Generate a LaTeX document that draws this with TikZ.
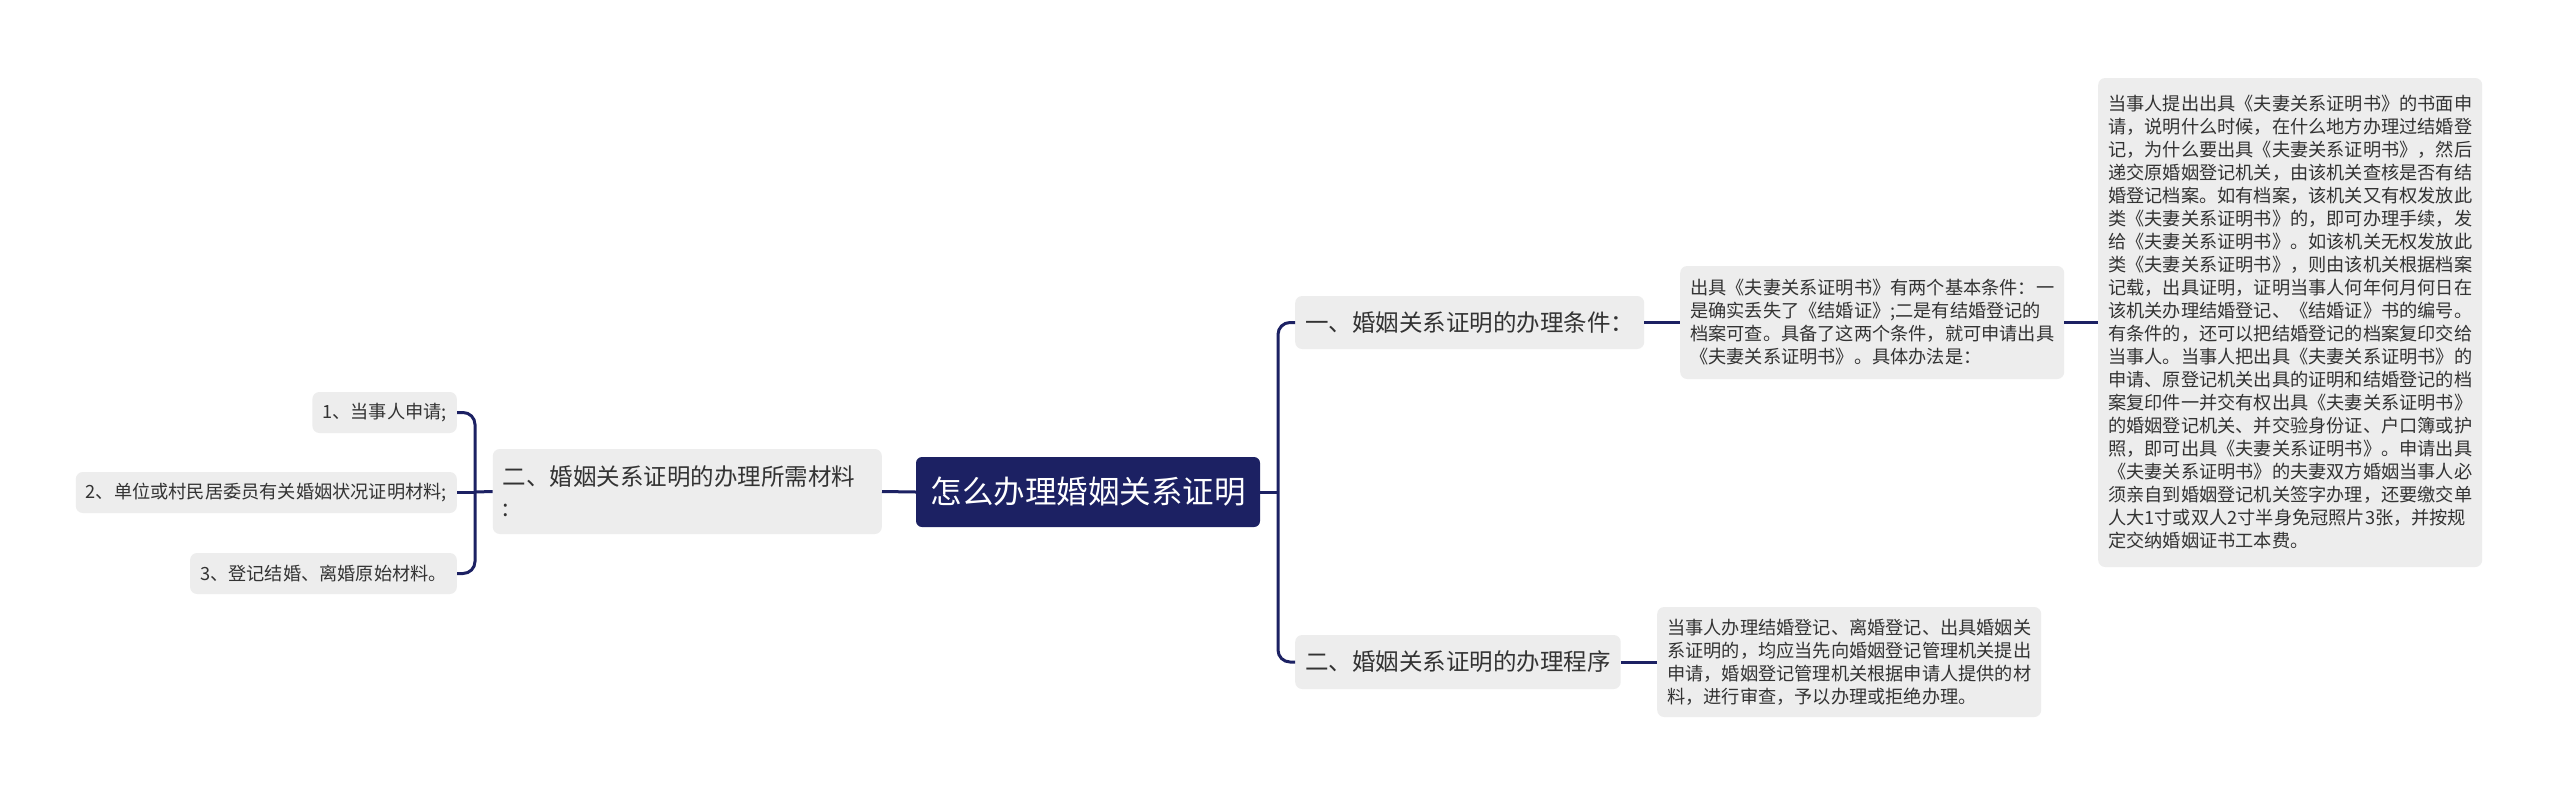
\documentclass[tikz,border=0pt]{standalone}
\usepackage{fontspec}
\newfontfamily\cjk{Noto Sans CJK SC}
\definecolor{navy}{HTML}{1C2163}
\definecolor{boxgray}{HTML}{EDEDED}
\definecolor{txt}{HTML}{333333}
\begin{document}
\begin{tikzpicture}[x=1pt,y=-1pt,
  box/.style={fill=boxgray, rounded corners=7pt, text=txt, inner xsep=10pt, inner ysep=0pt, align=left},
  bigfont/.style={font=\cjk\fontsize{23.5pt}{31pt}\selectfont},
  smallfont/.style={font=\cjk\fontsize{18.2pt}{23pt}\selectfont},
  rootbox/.style={fill=navy, text=white, rounded corners=6pt, inner sep=0pt, minimum width=344pt, minimum height=70pt, font=\cjk\fontsize{31.5pt}{36pt}\selectfont},
  conn/.style={draw=navy, line width=3pt, rounded corners=12pt}]
\fill[white] (0,0) rectangle (2560,796);
\useasboundingbox (0,0) rectangle (2560,796);

\node[rootbox] (root) at (1088,492) {怎么办理婚姻关系证明};

\node[box, bigfont, text width=369pt, minimum height=85pt, anchor=east] (left) at (882,491.5) {二、婚姻关系证明的办理所需材料\\:};
\node[box, smallfont, minimum height=41pt, anchor=east] (k1) at (457,412.5) {1、当事人申请;};
\node[box, smallfont, minimum height=41pt, anchor=east] (k2) at (457,492.5) {2、单位或村民居委员有关婚姻状况证明材料;};
\node[box, smallfont, minimum height=41pt, anchor=east] (k3) at (457,573.5) {3、登记结婚、离婚原始材料。};

\node[box, bigfont, minimum height=53pt, anchor=west] (c1) at (1295,322.5) {一、婚姻关系证明的办理条件：};
\node[box, bigfont, minimum height=54pt, anchor=west] (c2) at (1295,662) {二、婚姻关系证明的办理程序};

\node[box, smallfont, minimum height=113pt, minimum width=384pt, anchor=west] (d1) at (1680,322.5) {出具《夫妻关系证明书》有两个基本条件：一\\是确实丢失了《结婚证》;二是有结婚登记的\\档案可查。具备了这两个条件，就可申请出具\\《夫妻关系证明书》。具体办法是：};

\node[box, smallfont, minimum height=489pt, minimum width=384pt, anchor=west] (d2) at (2098,322.5) {当事人提出出具《夫妻关系证明书》的书面申\\请，说明什么时候，在什么地方办理过结婚登\\记，为什么要出具《夫妻关系证明书》，然后\\递交原婚姻登记机关，由该机关查核是否有结\\婚登记档案。如有档案，该机关又有权发放此\\类《夫妻关系证明书》的，即可办理手续，发\\给《夫妻关系证明书》。如该机关无权发放此\\类《夫妻关系证明书》，则由该机关根据档案\\记载，出具证明，证明当事人何年何月何日在\\该机关办理结婚登记、《结婚证》书的编号。\\有条件的，还可以把结婚登记的档案复印交给\\当事人。当事人把出具《夫妻关系证明书》的\\申请、原登记机关出具的证明和结婚登记的档\\案复印件一并交有权出具《夫妻关系证明书》\\的婚姻登记机关、并交验身份证、户口簿或护\\照，即可出具《夫妻关系证明书》。申请出具\\《夫妻关系证明书》的夫妻双方婚姻当事人必\\须亲自到婚姻登记机关签字办理，还要缴交单\\人大1寸或双人2寸半身免冠照片3张，并按规\\定交纳婚姻证书工本费。};

\node[box, smallfont, minimum height=110pt, minimum width=384pt, anchor=west] (d3) at (1657,662) {当事人办理结婚登记、离婚登记、出具婚姻关\\系证明的，均应当先向婚姻登记管理机关提出\\申请，婚姻登记管理机关根据申请人提供的材\\料，进行审查，予以办理或拒绝办理。};

\coordinate (rb) at (1278,492);
\coordinate (lb) at (475,492);
\draw[conn] (root.east) -- (rb);
\draw[conn] (c1.west) -- (c1.west -| rb) -- (c2.west -| rb) -- (c2.west);
\draw[conn] (c1.east) -- (d1.west);
\draw[conn] (d1.east) -- (d2.west);
\draw[conn] (c2.east) -- (d3.west);
\draw[conn] (left.east) -- (root.west);
\draw[conn] (left.west) -- (lb);
\draw[conn] (k1.east) -- (k1.east -| lb) -- (k3.east -| lb) -- (k3.east);
\draw[conn] (k2.east) -- (k2.east -| lb);
\end{tikzpicture}
\end{document}
